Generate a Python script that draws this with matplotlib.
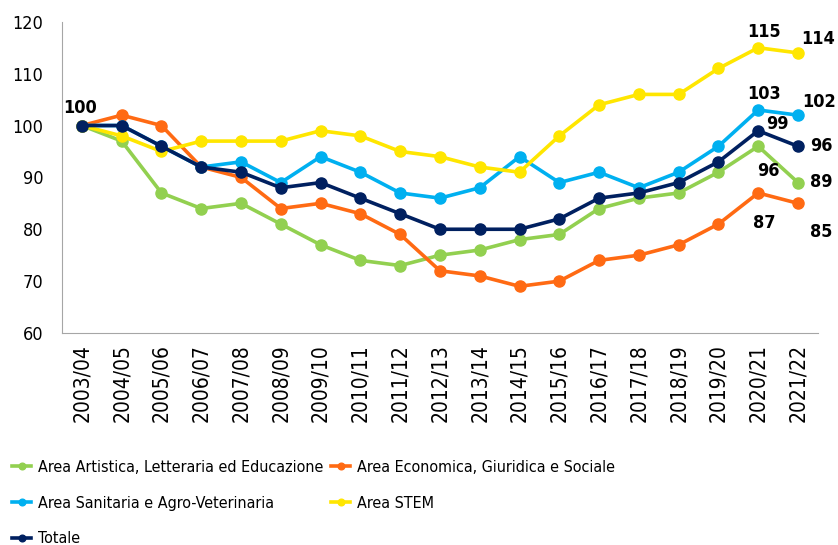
import numpy as np
import matplotlib
matplotlib.use("Agg")
import matplotlib.pyplot as plt

plt.rcParams['font.family'] = ['DejaVu Sans']
plt.rcParams['font.stretch'] = 'condensed'

years = ["2003/04", "2004/05", "2005/06", "2006/07", "2007/08", "2008/09", "2009/10",
         "2010/11", "2011/12", "2012/13", "2013/14", "2014/15", "2015/16", "2016/17",
         "2017/18", "2018/19", "2019/20", "2020/21", "2021/22"]

artistica = [100, 97, 87, 84, 85, 81, 77, 74, 73, 75, 76, 78, 79, 84, 86, 87, 91, 96, 89]
economica = [100, 102, 100, 92, 90, 84, 85, 83, 79, 72, 71, 69, 70, 74, 75, 77, 81, 87, 85]
sanitaria = [100, 100, 96, 92, 93, 89, 94, 91, 87, 86, 88, 94, 89, 91, 88, 91, 96, 103, 102]
stem = [100, 98, 95, 97, 97, 97, 99, 98, 95, 94, 92, 91, 98, 104, 106, 106, 111, 115, 114]
totale = [100, 100, 96, 92, 91, 88, 89, 86, 83, 80, 80, 80, 82, 86, 87, 89, 93, 99, 96]

names = ["Area Artistica, Letteraria ed Educazione", "Area Economica, Giuridica e Sociale",
         "Area Sanitaria e Agro-Veterinaria", "Area STEM", "Totale"]
colors = ["#92D050", "#FF6A13", "#00B0F0", "#FFE600", "#002060"]
series = [artistica, economica, sanitaria, stem, totale]

fig = plt.figure(figsize=(8.38, 5.45), dpi=100)
ax = fig.add_axes([0.074, 0.389, 0.902, 0.571])

x = np.arange(len(years))
for vals, name, c in zip(series, names, colors):
    ax.plot(x, vals, color=c, lw=2.6, marker='o', ms=8, label=name)

ax.set_xlim(-0.5, len(years) - 0.5)
ax.set_ylim(60, 120)
ax.set_yticks(range(60, 121, 10))
ax.set_xticks(x)
ax.set_xticklabels(years, rotation=90, fontsize=15)
ax.tick_params(axis='y', labelsize=13, length=0, pad=13.5)
ax.tick_params(axis='x', length=0, pad=8)
for s in ['top', 'right']:
    ax.spines[s].set_visible(False)
for s in ['left', 'bottom']:
    ax.spines[s].set_color('#A6A6A6')

# data labels (offsets in points from the marker)
lab = dict(fontsize=13, fontweight='bold', color='black', textcoords='offset points')
ax.annotate("100", (0, 100), xytext=(-1.5, 12.5), ha='center', va='center', **lab)
ax.annotate(str(stem[17]), (17, stem[17]), xytext=(4, 11), ha='center', va='center', **lab)
ax.annotate(str(sanitaria[17]), (17, sanitaria[17]), xytext=(4, 11.5), ha='center', va='center', **lab)
ax.annotate(str(totale[17]), (17, totale[17]), xytext=(6, 5), ha='left', va='center', **lab)
ax.annotate(str(artistica[17]), (17, artistica[17]), xytext=(7, -18), ha='center', va='center', **lab)
ax.annotate(str(economica[17]), (17, economica[17]), xytext=(4, -21.5), ha='center', va='center', **lab)
ax.annotate(str(stem[18]), (18, stem[18]), xytext=(2.5, 10), ha='left', va='center', **lab)
ax.annotate(str(sanitaria[18]), (18, sanitaria[18]), xytext=(3, 9.5), ha='left', va='center', **lab)
ax.annotate(str(totale[18]), (18, totale[18]), xytext=(9, 0.5), ha='left', va='center', **lab)
ax.annotate(str(artistica[18]), (18, artistica[18]), xytext=(9, 0.5), ha='left', va='center', **lab)
ax.annotate(str(economica[18]), (18, economica[18]), xytext=(9, -21), ha='left', va='center', **lab)

handles, labels = ax.get_legend_handles_labels()
order = [0, 2, 4, 1, 3]
leg = fig.legend([handles[i] for i in order], [labels[i] for i in order],
                 loc='lower left', bbox_to_anchor=(0.003, -0.02), ncol=2,
                 frameon=False, fontsize=11.5, handlelength=1.2, handletextpad=0.4,
                 columnspacing=0.5, labelspacing=1.3, markerscale=0.6, borderpad=0.1)

fig.savefig("out.png", dpi=100)
